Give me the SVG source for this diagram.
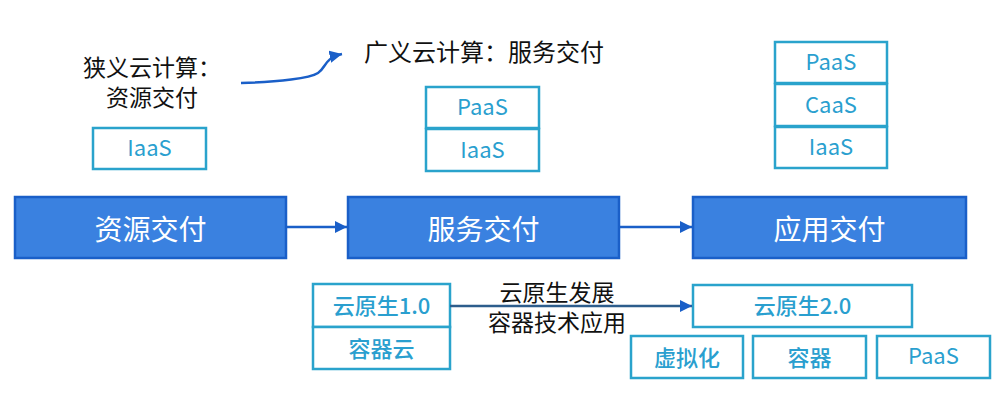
<svg xmlns="http://www.w3.org/2000/svg" width="1006" height="417" viewBox="0 0 1006 417">
<style>
text{font-family:"Noto Sans CJK SC","Noto Sans",sans-serif;text-anchor:middle}
.main rect{fill:#3a81e0;stroke:#1a5fc8;stroke-width:2.5}
.main text{fill:#fff;font-size:28px}
.sub rect{fill:#fff;stroke:#2aa3cc;stroke-width:2.5}
.sub text{fill:#2a9fcf;font-size:22px}
.sub text.cjk{font-weight:500}
.lbl{fill:#111;font-size:23px}
.conn{fill:none;stroke:#1a5fc8;stroke-width:2.5}
</style>
<defs>
<marker id="ah" viewBox="0 0 10 10" refX="10" refY="5" markerWidth="5" markerHeight="5" orient="auto" markerUnits="strokeWidth">
<path d="M0,0 L10,5 L0,10 z" fill="#1a5fc8"/>
</marker>
</defs>
<rect width="1006" height="417" fill="#fff"/>
<g id="label-narrow"><text class="lbl" x="152" y="76">狭义云计算：</text><text class="lbl" x="152" y="106">资源交付</text></g>
<g id="label-broad"><text class="lbl" x="484" y="61" style="font-size:24px">广义云计算：服务交付</text></g>
<g id="label-cn"><text class="lbl" x="557" y="301">云原生发展</text><text class="lbl" x="557" y="331">容器技术应用</text></g>
<g id="iaas1" class="sub"><rect x="93" y="128" width="113" height="41"/><text x="149.5" y="156">IaaS</text></g>
<g id="paas2" class="sub"><rect x="426" y="87" width="113" height="41"/><text x="482.5" y="115">PaaS</text></g>
<g id="iaas2" class="sub"><rect x="426" y="129" width="113" height="42"/><text x="482.5" y="158">IaaS</text></g>
<g id="paas3" class="sub"><rect x="775" y="42" width="112" height="41"/><text x="831" y="70">PaaS</text></g>
<g id="caas3" class="sub"><rect x="775" y="84" width="112" height="42"/><text x="831" y="113">CaaS</text></g>
<g id="iaas3" class="sub"><rect x="775" y="127" width="112" height="41"/><text x="831" y="155">IaaS</text></g>
<g id="res" class="main"><rect x="15" y="197" width="271" height="61"/><text x="150.5" y="240">资源交付</text></g>
<g id="svc" class="main"><rect x="348" y="197" width="271" height="61"/><text x="483.5" y="240">服务交付</text></g>
<g id="app" class="main"><rect x="693" y="197" width="273" height="61"/><text x="829.5" y="240">应用交付</text></g>
<g id="cn1" class="sub"><rect x="313" y="284" width="137" height="43"/><text class="cjk" x="381.5" y="313.5">云原生1.0</text></g>
<g id="cc" class="sub"><rect x="313" y="327" width="137" height="42"/><text class="cjk" x="381.5" y="356.5">容器云</text></g>
<g id="cn2" class="sub"><rect x="693" y="285" width="219" height="42"/><text class="cjk" x="802.5" y="314">云原生2.0</text></g>
<g id="virt" class="sub"><rect x="631" y="336" width="112" height="42"/><text class="cjk" x="687" y="365.5">虚拟化</text></g>
<g id="ctr" class="sub"><rect x="753" y="336" width="113" height="42"/><text class="cjk" x="809.5" y="365.5">容器</text></g>
<g id="paas4" class="sub"><rect x="877" y="336" width="113" height="42"/><text x="933.5" y="364">PaaS</text></g>
<g id="connectors">
<path class="conn" d="M241,83 C280,82 310,78 318,73 C326,68 324,58 342,54" marker-end="url(#ah)"/>
<line class="conn" x1="286" y1="227" x2="347" y2="227" marker-end="url(#ah)"/>
<line class="conn" x1="619" y1="227" x2="692" y2="227" marker-end="url(#ah)"/>
<line class="conn" style="stroke:#2d5d8c" x1="450" y1="306" x2="692" y2="306" marker-end="url(#ah)"/>
</g>
</svg>
